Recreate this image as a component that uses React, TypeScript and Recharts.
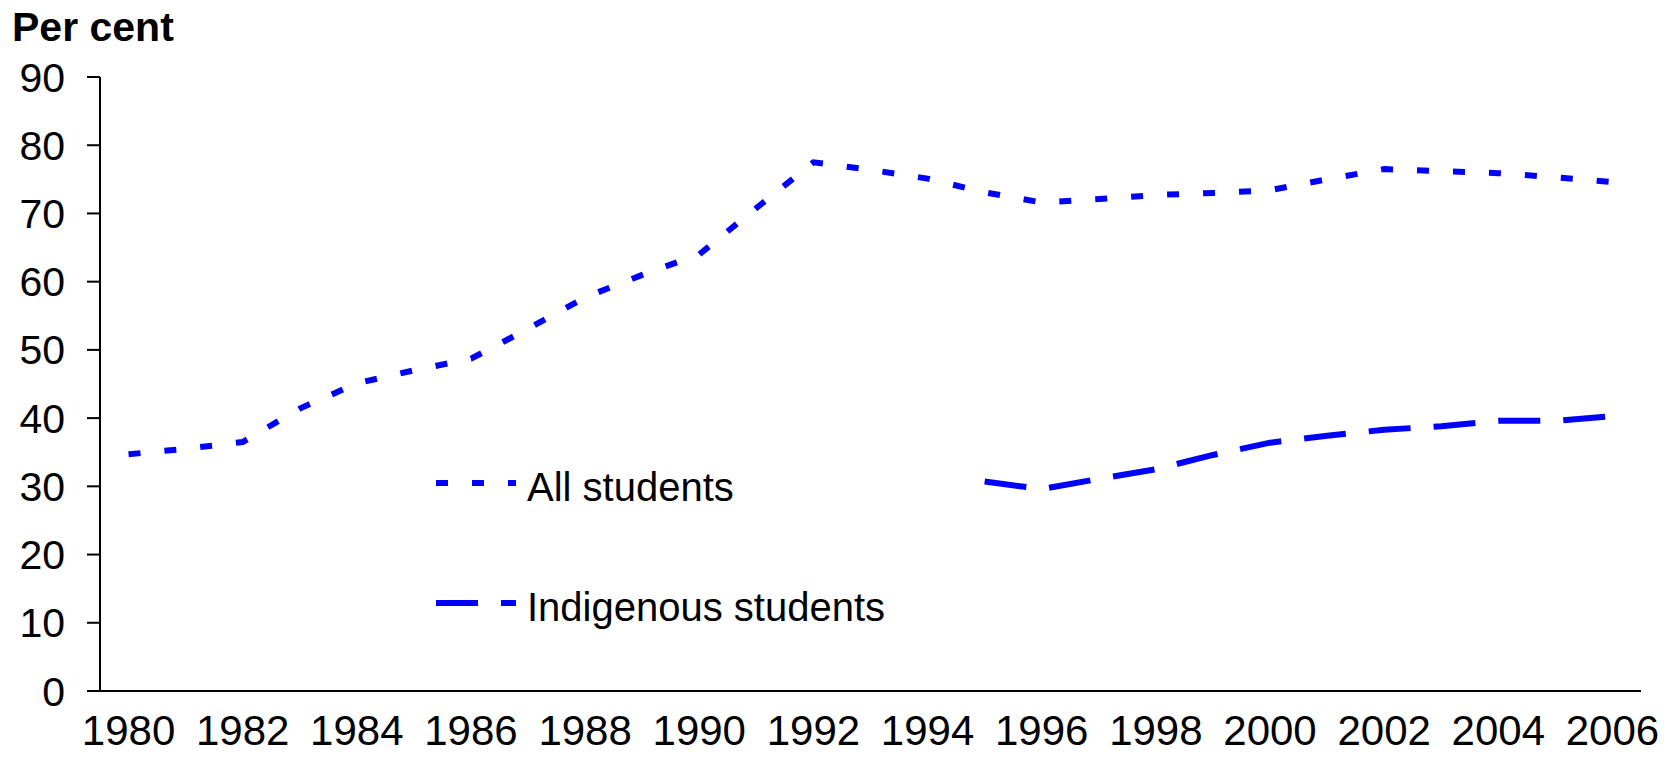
import React from "react";
import { LineChart, Line, XAxis, YAxis, Legend } from "recharts";

// school years, one category per year
const years = [
  1980, 1981, 1982, 1983, 1984, 1985, 1986, 1987, 1988, 1989, 1990, 1991, 1992,
  1993, 1994, 1995, 1996, 1997, 1998, 1999, 2000, 2001, 2002, 2003, 2004, 2005,
  2006,
];

// per cent
const allStudents = [
  34.7, 35.5, 36.5, 41.4, 45.1, 47.0, 48.7, 53.1, 57.7, 61.0, 64.0, 70.8, 77.5,
  76.4, 75.1, 73.1, 71.6, 72.1, 72.7, 73.0, 73.4, 75.0, 76.5, 76.2, 75.9, 75.3,
  74.6,
];

const indigenousStudents = [
  null, null, null, null, null, null, null, null, null, null, null, null, null,
  null, null, 30.7, 29.6, 31.1, 32.5, 34.6, 36.4, 37.4, 38.3, 38.8, 39.6, 39.6,
  40.3,
];

const yTicks = [0, 10, 20, 30, 40, 50, 60, 70, 80, 90];
const seriesNames = ["All students", "Indigenous students"];

const data = years.map((year, i) => ({
  year,
  all: allStudents[i],
  indigenous: indigenousStudents[i],
}));

// tick marks sit between categories, labels on every other year
const xDomain = [years[0] - 0.5, years[years.length - 1] + 0.5];
const markTicks = [...years.map((y) => y - 0.5), xDomain[1]];
const labelTicks = years.filter((y) => y % 2 === 0);

const FONT = '"Liberation Sans", Arial, Helvetica, sans-serif';
const BLUE = "#0000FF";

function LegendBox(props: any) {
  const { payload = [] } = props;
  return (
    <svg width={520} height={200} style={{ display: "block" }}>
      {payload.map((entry: any, i: number) => {
        const cy = 43 + i * 120;
        return (
          <g key={entry.value}>
            <line
              x1={0}
              x2={80}
              y1={cy}
              y2={cy}
              stroke={entry.color}
              strokeWidth={6}
              strokeDasharray={entry.payload?.strokeDasharray}
            />
            <text x={91} y={cy + 18} fontSize={40} fontFamily={FONT} fill="#000">
              {entry.value}
            </text>
          </g>
        );
      })}
    </svg>
  );
}

export default function App() {
  return (
    <div
      style={{
        position: "absolute",
        left: 0,
        top: 0,
        width: 1676,
        height: 775,
        background: "#fff",
      }}
    >
      <svg
        width={300}
        height={60}
        style={{ position: "absolute", left: 0, top: 0 }}
      >
        <text x={12} y={41} fontSize={41} fontWeight="bold" fontFamily={FONT} fill="#000">
          Per cent
        </text>
      </svg>
      <LineChart
        width={1676}
        height={775}
        data={data}
        margin={{ top: 77, right: 35, left: 0, bottom: 0 }}
      >
        <XAxis
          xAxisId="marks"
          dataKey="year"
          type="number"
          domain={xDomain}
          ticks={markTicks}
          interval={0}
          tick={false}
          tickSize={13}
          height={13}
          stroke="#000"
          strokeWidth={2}
        />
        <XAxis
          xAxisId="years"
          dataKey="year"
          type="number"
          domain={xDomain}
          ticks={labelTicks}
          interval={0}
          axisLine={false}
          tickLine={false}
          tickSize={0}
          tickMargin={11}
          height={71}
          tick={{ fill: "#000", fontSize: 42, fontFamily: FONT }}
        />
        <YAxis
          domain={[0, 90]}
          ticks={yTicks}
          interval={0}
          width={100}
          tickSize={13}
          tickMargin={22}
          stroke="#000"
          strokeWidth={2}
          tick={{ fill: "#000", fontSize: 41, fontFamily: FONT }}
        />
        <Legend
          layout="vertical"
          align="center"
          verticalAlign="middle"
          wrapperStyle={{ left: 436, top: 440, width: 520, height: 200 }}
          content={<LegendBox />}
        />
        <Line
          xAxisId="marks"
          type="linear"
          dataKey="all"
          name={seriesNames[0]}
          stroke={BLUE}
          strokeWidth={6}
          strokeDasharray="12 24"
          dot={false}
          activeDot={false}
          isAnimationActive={false}
        />
        <Line
          xAxisId="marks"
          type="linear"
          dataKey="indigenous"
          name={seriesNames[1]}
          stroke={BLUE}
          strokeWidth={6}
          strokeDasharray="42 23"
          dot={false}
          activeDot={false}
          isAnimationActive={false}
        />
      </LineChart>
    </div>
  );
}
